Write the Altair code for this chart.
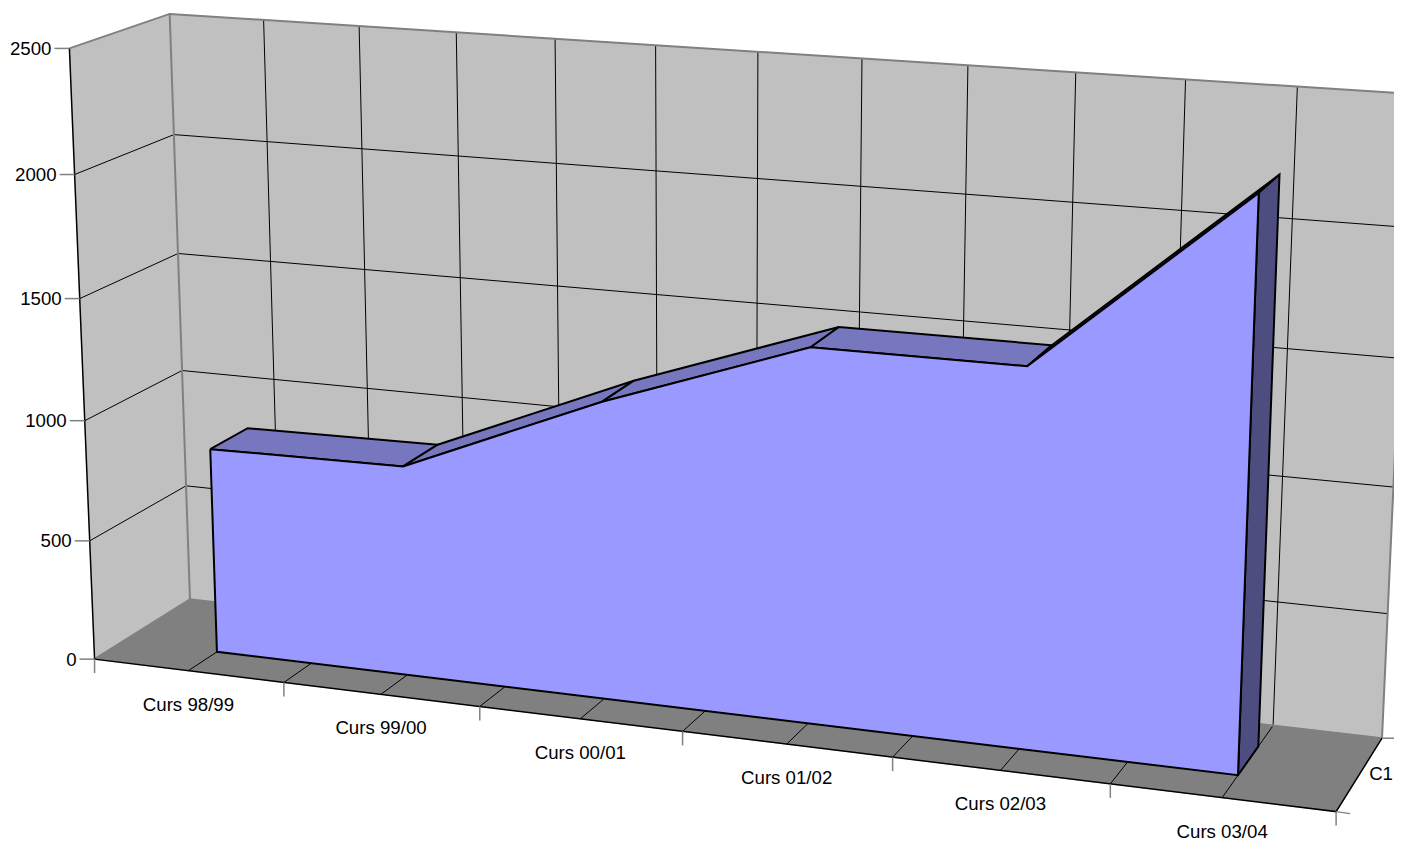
import altair as alt
import numpy as np
import pandas as pd

categories = ["Curs 98/99", "Curs 99/00", "Curs 00/01", "Curs 01/02", "Curs 02/03", "Curs 03/04"]
values = [856, 867, 1209, 1499, 1500, 2218]
value_ticks = [0, 500, 1000, 1500, 2000, 2500]
series_name = "C1"

WALL = "#C0C0C0"
FLOOR = "#808080"
FRONT = "#9999FF"
TOP = "#7777BF"
SIDE = "#4D4D80"
Z0, Z1 = 0.30, 0.70

# Calibration of the 3D view: (category position, value, depth) -> picture position
calib_3d = [
    (0, 0, 0), (0, 2500, 0), (0, 0, 1), (0, 2500, 1), (6, 0, 0), (6, 0, 1), (6, 2500, 1),
    (1, 0, 0), (2, 0, 0), (3, 0, 0), (4, 0, 0), (5, 0, 0),
    (0, 2000, 0), (0, 1500, 0), (0, 1000, 0), (0, 500, 0),
    (0, 2000, 1), (0, 1500, 1), (0, 1000, 1), (0, 500, 1),
    (6, 2000, 1), (6, 1500, 1), (6, 1000, 1), (6, 500, 1),
    (1, 2500, 1), (2, 2500, 1), (3, 2500, 1), (4, 2500, 1), (5, 2500, 1), (5.5, 0, 1),
]
calib_2d = [
    (95, 659), (70, 48), (190, 600), (170, 13), (1337, 811), (1383, 738), (1416, 94),
    (284, 683), (480, 707), (683, 732), (892, 757), (1109, 784),
    (75, 175), (79, 298), (84, 420), (90, 541),
    (174, 134), (178, 254), (182, 370), (186, 486),
    (1402, 228), (1399, 358), (1393, 487), (1388, 613),
    (359, 26), (555, 39), (758, 53), (967, 66), (1184, 79), (1273, 725),
]

A, b = [], []
for (X, Y, Z), (u, v) in zip(calib_3d, calib_2d):
    X, Y = X / 6, Y / 2500
    A.append([X, Y, Z, 1, 0, 0, 0, 0, -u * X, -u * Y, -u * Z])
    A.append([0, 0, 0, 0, X, Y, Z, 1, -v * X, -v * Y, -v * Z])
    b += [u, v]
p = np.linalg.lstsq(np.array(A, float), np.array(b, float), rcond=None)[0]


def proj(X, Y, Z):
    X, Y = X / 6, Y / 2500
    w = p[8] * X + p[9] * Y + p[10] * Z + 1
    return ((p[0] * X + p[1] * Y + p[2] * Z + p[3]) / w - 8,
            (p[4] * X + p[5] * Y + p[6] * Z + p[7]) / w - 8)


def path_df(paths):
    rows = []
    for i, pts in enumerate(paths):
        for j, pt in enumerate(pts):
            x, y = proj(*pt)
            rows.append({"id": i, "o": j, "x": x, "y": y})
    return pd.DataFrame(rows)


W, H = 1386, 833
xs = alt.X("x:Q", scale=alt.Scale(domain=[0, W], range=[0, W]), axis=None)
ys = alt.Y("y:Q", scale=alt.Scale(domain=[0, H], range=[0, H]), axis=None)


def draw(paths, **mark):
    return alt.Chart(path_df(paths)).mark_line(**mark).encode(
        x=xs, y=ys, detail="id:N", order="o:Q")


def quad(pts):
    return list(pts) + [pts[0]]


back_wall = quad([(0, 0, 1), (6, 0, 1), (6, 2500, 1), (0, 2500, 1)])
left_wall = quad([(0, 0, 0), (0, 0, 1), (0, 2500, 1), (0, 2500, 0)])
floor = quad([(0, 0, 0), (6, 0, 0), (6, 0, 1), (0, 0, 1)])

grid = []
for k in range(1, 12):
    grid.append([(k / 2, 0, 0), (k / 2, 0, 1), (k / 2, 2500, 1)])
for v in value_ticks[1:-1]:
    grid.append([(0, v, 0), (0, v, 1), (6, v, 1)])

gray_edges = [
    [(0, 2500, 0), (0, 2500, 1), (6, 2500, 1), (6, 0, 1)],
    [(0, 0, 1), (0, 2500, 1)],
    [(0, 0, 0), (0, 0, 1), (6, 0, 1)],
]
black_edges = [
    [(0, 2500, 0), (0, 0, 0), (6, 0, 0), (6, 0, 1)],
]

pos = [k + 0.5 for k in range(len(values))]
top_faces = [quad([(pos[i], values[i], Z0), (pos[i + 1], values[i + 1], Z0),
                   (pos[i + 1], values[i + 1], Z1), (pos[i], values[i], Z1)])
             for i in range(len(values) - 1)]
side_face = quad([(pos[-1], 0, Z0), (pos[-1], 0, Z1), (pos[-1], values[-1], Z1), (pos[-1], values[-1], Z0)])
front_face = quad([(pos[i], values[i], Z0) for i in range(len(values))]
                  + [(pos[-1], 0, Z0), (pos[0], 0, Z0)])

tick_rows = []
label_rows = []
for v in value_ticks:
    x, y = proj(0, v, 0)
    tick_rows += [{"id": f"v{v}", "o": 0, "x": x - 15, "y": y}, {"id": f"v{v}", "o": 1, "x": x, "y": y}]
    label_rows.append({"x": x - 18, "y": y + 0.5, "t": str(v), "a": "right"})
for k in range(7):
    x, y = proj(k, 0, 0)
    tick_rows += [{"id": f"c{k}", "o": 0, "x": x, "y": y}, {"id": f"c{k}", "o": 1, "x": x, "y": y + 14}]
for k, c in enumerate(categories):
    x, y = proj(k + 0.5, 0, 0)
    label_rows.append({"x": x, "y": y + 34, "t": c, "a": "center"})
for z in (0, 1):
    x, y = proj(6, 0, z)
    tick_rows += [{"id": f"z{z}", "o": 0, "x": x, "y": y}, {"id": f"z{z}", "o": 1, "x": x + 14, "y": y + (2 if z == 0 else 0)}]
x, y = proj(6, 0, 0.5)
label_rows.append({"x": W - 1, "y": y + 0, "t": series_name, "a": "right"})
ticks_df = pd.DataFrame(tick_rows)
labels_df = pd.DataFrame(label_rows)

layers = [
    draw([back_wall, left_wall], fill=WALL, stroke=WALL, strokeWidth=0.5),
    draw([floor], fill=FLOOR, stroke=FLOOR, strokeWidth=0.5),
    draw(grid, stroke="#000000", strokeWidth=1),
    draw(gray_edges, stroke="#808080", strokeWidth=2),
    draw(black_edges, stroke="#000000", strokeWidth=1.5),
    alt.Chart(ticks_df).mark_line(stroke="#808080", strokeWidth=1.5).encode(x=xs, y=ys, detail="id:N", order="o:Q"),
    draw(top_faces, fill=TOP, stroke="#000000", strokeWidth=2),
    draw([side_face], fill=SIDE, stroke="#000000", strokeWidth=2),
    draw([front_face], fill=FRONT, stroke="#000000", strokeWidth=2),
]
for a in ("right", "center"):
    layers.append(
        alt.Chart(labels_df[labels_df.a == a]).mark_text(
            font="Liberation Sans", fontSize=18.67, color="#000000", align=a, baseline="middle"
        ).encode(x=xs, y=ys, text="t:N")
    )

chart = alt.layer(*layers).properties(
    width=W, height=H, padding=0, autosize="none", background="white"
).configure_view(stroke=None)

chart.save("out.html", embed_options={"renderer": "svg", "actions": False})
